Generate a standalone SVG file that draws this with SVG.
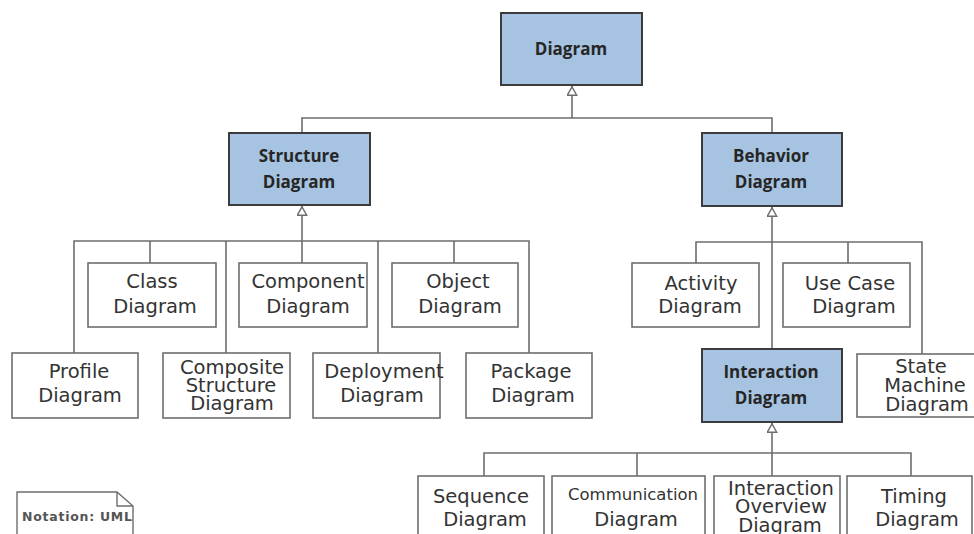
<svg xmlns="http://www.w3.org/2000/svg" width="974" height="534" viewBox="0 0 974 534">
<defs>
<style>
.blue{fill:#a6c3e1;stroke:#3c3c3c;stroke-width:2}
.box{fill:#fff;stroke:#6e6e6e;stroke-width:1.6}
.cn{fill:none;stroke:#6e6e6e;stroke-width:1.6}
.bt{font-family:"Open Sans","DejaVu Sans",sans-serif;font-weight:bold;font-size:17px;fill:#262626;text-anchor:middle}
.t{font-family:"DejaVu Sans",sans-serif;font-size:19.5px;fill:#333;text-anchor:middle}
.note{font-family:"DejaVu Sans",sans-serif;font-weight:bold;font-size:12.5px;fill:#555}
</style>
<marker id="gen" viewBox="0 0 10 11" refX="10" refY="5.5" markerWidth="10" markerHeight="11" markerUnits="userSpaceOnUse" orient="auto">
<path d="M0.8,0.8 L9.2,5.5 L0.8,10.2 Z" fill="#fff" stroke="#6e6e6e" stroke-width="1.4"/>
</marker>
</defs>

<g id="connectors">
<path class="cn" d="M572,118 V86" marker-end="url(#gen)"/>
<path class="cn" d="M302,133 V118 H772 V133"/>
<path class="cn" d="M302,241 V206" marker-end="url(#gen)"/>
<path class="cn" d="M74,353 V241 H529 V353"/>
<path class="cn" d="M150,241 V263 M226,241 V353 M302,241 V263 M378,241 V353 M454,241 V263"/>
<path class="cn" d="M772,349 V207" marker-end="url(#gen)"/>
<path class="cn" d="M696,263 V242 H922 V354 M848,242 V263"/>
<path class="cn" d="M772,453 V423" marker-end="url(#gen)"/>
<path class="cn" d="M484,476 V453 H911 V476 M637,453 V476 M772,453 V476"/>
</g>

<g id="diagram"><rect class="blue" x="501" y="13" width="141" height="72"/><text class="bt" x="571" y="55">Diagram</text></g>
<g id="structure"><rect class="blue" x="229" y="133" width="141" height="72"/><text class="bt" x="299" y="162">Structure</text><text class="bt" x="299" y="188">Diagram</text></g>
<g id="behavior"><rect class="blue" x="702" y="133" width="140" height="73"/><text class="bt" x="771" y="162">Behavior</text><text class="bt" x="771" y="188">Diagram</text></g>
<g id="interaction"><rect class="blue" x="702" y="349" width="140" height="73"/><text class="bt" x="771" y="378">Interaction</text><text class="bt" x="771" y="404">Diagram</text></g>

<g id="class"><rect class="box" x="88" y="263" width="128" height="64"/><text class="t" x="152" y="288">Class</text><text class="t" x="155" y="313">Diagram</text></g>
<g id="component"><rect class="box" x="239" y="263" width="128" height="64"/><text class="t" x="308" y="288">Component</text><text class="t" x="308" y="313">Diagram</text></g>
<g id="object"><rect class="box" x="392" y="263" width="126" height="64"/><text class="t" x="458" y="288">Object</text><text class="t" x="460" y="313">Diagram</text></g>

<g id="profile"><rect class="box" x="12" y="353" width="126" height="65"/><text class="t" x="79" y="378">Profile</text><text class="t" x="80" y="402">Diagram</text></g>
<g id="composite"><rect class="box" x="163" y="353" width="127" height="65"/><text class="t" x="232" y="374">Composite</text><text class="t" x="231" y="392">Structure</text><text class="t" x="232" y="410">Diagram</text></g>
<g id="deployment"><rect class="box" x="313" y="353" width="127" height="65"/><text class="t" x="384" y="378">Deployment</text><text class="t" x="382" y="402">Diagram</text></g>
<g id="package"><rect class="box" x="466" y="353" width="126" height="65"/><text class="t" x="531" y="378">Package</text><text class="t" x="533" y="402">Diagram</text></g>

<g id="activity"><rect class="box" x="632" y="263" width="127" height="64"/><text class="t" x="701" y="290">Activity</text><text class="t" x="700" y="313">Diagram</text></g>
<g id="usecase"><rect class="box" x="783" y="263" width="127" height="64"/><text class="t" x="850" y="290">Use Case</text><text class="t" x="854" y="313">Diagram</text></g>
<g id="statemachine"><rect class="box" x="857" y="354" width="130" height="63"/><text class="t" x="921" y="373">State</text><text class="t" x="925" y="392">Machine</text><text class="t" x="927" y="411">Diagram</text></g>

<g id="sequence"><rect class="box" x="418" y="476" width="126" height="70"/><text class="t" x="481" y="503">Sequence</text><text class="t" x="485" y="526">Diagram</text></g>
<g id="communication"><rect class="box" x="552" y="476" width="153" height="70"/><text class="t" x="633" y="500" style="font-size:16.5px">Communication</text><text class="t" x="636" y="526">Diagram</text></g>
<g id="overview"><rect class="box" x="714" y="476" width="126" height="70"/><text class="t" x="781" y="495">Interaction</text><text class="t" x="781" y="513">Overview</text><text class="t" x="780" y="532">Diagram</text></g>
<g id="timing"><rect class="box" x="847" y="476" width="125" height="70"/><text class="t" x="914" y="503">Timing</text><text class="t" x="917" y="526">Diagram</text></g>

<g id="notation">
<path d="M17,492 H117 L133,506 V545 H17 Z" fill="#fff" stroke="#6e6e6e" stroke-width="1.4"/>
<path d="M117,492 V506 H133" fill="none" stroke="#6e6e6e" stroke-width="1.4"/>
<text class="note" x="22" y="521" textLength="110" lengthAdjust="spacing">Notation: UML</text>
</g>
</svg>
